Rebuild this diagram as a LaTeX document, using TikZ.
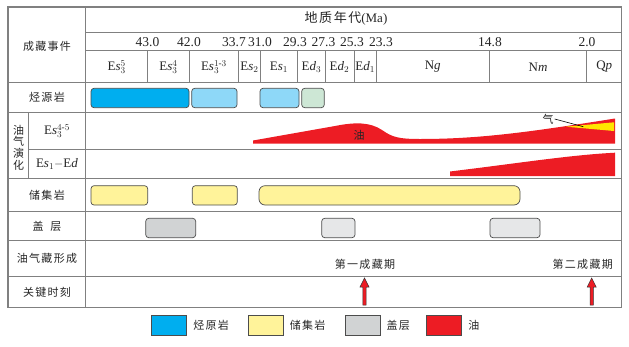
\documentclass[tikz,border=0pt]{standalone}
\usepackage{amsmath}
\usepackage{fontspec}
\setmainfont{Liberation Serif}
\newfontfamily\cjk[LetterSpace=12]{Noto Sans CJK SC}
\usetikzlibrary{positioning}
\definecolor{srcblue}{HTML}{00AEEF}
\definecolor{srclight}{HTML}{8ED8F8}
\definecolor{srcgreen}{HTML}{CDE7D5}
\definecolor{resyellow}{HTML}{FFF39A}
\definecolor{capgray}{HTML}{D1D3D4}
\definecolor{caplight}{HTML}{E6E7E8}
\definecolor{oilred}{HTML}{ED1C24}
\definecolor{gasyellow}{HTML}{FFE600}
\definecolor{gridgray}{HTML}{808080}

\begin{document}
\begin{tikzpicture}[x=1pt,y=-1pt,
  grid/.style={draw=gridgray,line width=1pt},
  bar/.style={draw=black!70,line width=0.7pt,rounded corners=3pt},
  keybox/.style={draw=black!70,line width=0.7pt,minimum width=35pt,minimum height=20pt,inner sep=0pt},
  lab/.style={font=\fontsize{11}{11.7}\cjk,text=black!85,inner sep=1pt},
  num/.style={font=\fontsize{13.5}{14}\selectfont,text=black!85,inner sep=0pt},
  per/.style={font=\fontsize{13}{14}\selectfont,text=black!85,inner sep=0pt},
  blockarrow/.style={draw=black!80,fill=oilred,line width=0.5pt}]
\path[use as bounding box] (0,0) rectangle (629,346);
\draw[grid,line width=1.2pt] (8,7) rectangle (621.7,307.7);
\draw[grid] (85.6,7) -- (85.6,307.7);
\draw[grid] (85.6,32) -- (621.7,32);
\draw[grid] (85.6,50) -- (621.7,50);
\draw[grid] (8,82.5) -- (621.7,82.5);
\draw[grid] (8,112.7) -- (621.7,112.7);
\draw[grid] (28.7,149) -- (621.7,149);
\draw[grid] (8,178.7) -- (621.7,178.7);
\draw[grid] (8,211.7) -- (621.7,211.7);
\draw[grid] (8,240.7) -- (621.7,240.7);
\draw[grid] (8,276) -- (621.7,276);
\draw[grid] (28.7,112.7) -- (28.7,178.7);
\draw[grid] (147.7,50) -- (147.7,82.5);
\draw[grid] (189,50) -- (189,82.5);
\draw[grid] (238.7,50) -- (238.7,82.5);
\draw[grid] (260.3,50) -- (260.3,82.5);
\draw[grid] (297.7,50) -- (297.7,82.5);
\draw[grid] (325,50) -- (325,82.5);
\draw[grid] (354,50) -- (354,82.5);
\draw[grid] (376.3,50) -- (376.3,82.5);
\draw[grid] (489.3,50) -- (489.3,82.5);
\draw[grid] (586.7,50) -- (586.7,82.5);
\node[lab] (events) at (47,46) {成藏事件};
\node[per] (title) at (346,18.5) {{\cjk 地质年代}(Ma)};
\node[num] (t430) at (147.5,42) {43.0};
\node[num] (t420) at (189,42) {42.0};
\node[num] (t337) at (234,42) {33.7};
\node[num] (t310) at (260,42) {31.0};
\node[num] (t293) at (295,42) {29.3};
\node[num] (t273) at (323.5,42) {27.3};
\node[num] (t253) at (352,42) {25.3};
\node[num] (t233) at (381,42) {23.3};
\node[num] (t148) at (490,42) {14.8};
\node[num] (t020) at (587,42) {2.0};
\node[per] (es35) at (116.7,67) {E\textit{s}$_3^5$};
\node[per] (es34) at (168.4,67) {E\textit{s}$_3^4$};
\node[per] (es313) at (213.9,67) {E\textit{s}$_3^{1\text{-}3}$};
\node[per] (es2) at (249.5,67) {E\textit{s}$_2$};
\node[per] (es1) at (279,67) {E\textit{s}$_1$};
\node[per] (ed3) at (311.4,67) {E\textit{d}$_3$};
\node[per] (ed2) at (339.5,67) {E\textit{d}$_2$};
\node[per] (ed1) at (365.2,67) {E\textit{d}$_1$};
\node[per] (ng) at (432.8,67) {N\textit{g}};
\node[per] (nm) at (538,67) {N\textit{m}};
\node[per] (qp) at (604.2,67) {Q\textit{p}};
\node[lab] (source) at (47,97.7) {烃源岩};
\node[lab,align=center] (evolve) at (18.5,147.5) {油\\气\\演\\化};
\node[per] (rowa) at (57,131) {E\textit{s}$_3^{4\text{-}5}$};
\node[per] (rowb) at (57,164) {E\textit{s}$_1$$-$E\textit{d}};
\node[lab] (reservoir) at (47,195) {储集岩};
\node[lab] (seal) at (47,226.5) {盖\hspace{7pt}层};
\node[lab] (forming) at (47,258.5) {油气藏形成};
\node[lab] (keytime) at (47,292.5) {关键时刻};
\draw[bar,fill=srcblue] (91,88.3) rectangle (189,107.7);
\draw[bar,fill=srclight] (191.7,88.3) rectangle (237,107.7);
\draw[bar,fill=srclight] (260,88.3) rectangle (299,107.7);
\draw[bar,fill=srcgreen] (301.7,88.3) rectangle (324.3,107.7);
\fill[oilred] (253,143.5) -- (253,140.5) -- (335,126) .. controls (355,122) and (370,122) .. (382,130)
  .. controls (392,137) and (398,139) .. (420,139) .. controls (480,139) and (530,132) .. (615,118.5)
  -- (615,143.5) -- cycle;
\fill[gasyellow] (566,126.7) -- (614,122.3) -- (614,131) -- cycle;
\node[lab] (oil) at (359,135.5) {油};
\node[lab] (gas) at (548,119) {气};
\coordinate (gastip) at (583.3,126.7);
\draw[line width=0.6pt] (gas.east) -- (gastip);
\fill[oilred] (450,176) -- (450,171.5) .. controls (520,163) and (570,155) .. (615,152.7) -- (615,176) -- cycle;
\draw[bar,fill=resyellow] (91,185.7) rectangle (147.7,205);
\draw[bar,fill=resyellow] (192.3,185.7) rectangle (237.3,205);
\draw[bar,fill=resyellow,rounded corners=6pt] (259,185.7) rectangle (520,205);
\draw[bar,fill=capgray] (145.7,218.3) rectangle (195.7,237.7);
\draw[bar,fill=caplight] (321.7,218.3) rectangle (355,237.7);
\draw[bar,fill=caplight] (490,218.3) rectangle (540,237.7);
\node[lab] (firststage) at (365,264.5) {第一成藏期};
\node[lab] (secondstage) at (582.7,264.5) {第二成藏期};
\draw[blockarrow] (362.8,305) -- (362.8,287) -- (360,287) -- (364.5,278) -- (369,287) -- (366.2,287) -- (366.2,305) -- cycle;
\draw[blockarrow] (590,305) -- (590,287) -- (587.2,287) -- (591.7,278) -- (596.2,287) -- (593.4,287) -- (593.4,305) -- cycle;
\node[keybox,fill=srcblue] (keysrc) at (169.2,325) {};
\node[lab,right=5pt of keysrc] (keysrctext) {烃原岩};
\node[keybox,fill=resyellow] (keyres) at (265.8,325) {};
\node[lab,right=5pt of keyres] (keyrestext) {储集岩};
\node[keybox,fill=capgray] (keycap) at (362.5,325) {};
\node[lab,right=5pt of keycap] (keycaptext) {盖层};
\node[keybox,fill=oilred] (keyoil) at (444.2,325) {};
\node[lab,right=5pt of keyoil] (keyoiltext) {油};
\end{tikzpicture}
\end{document}
